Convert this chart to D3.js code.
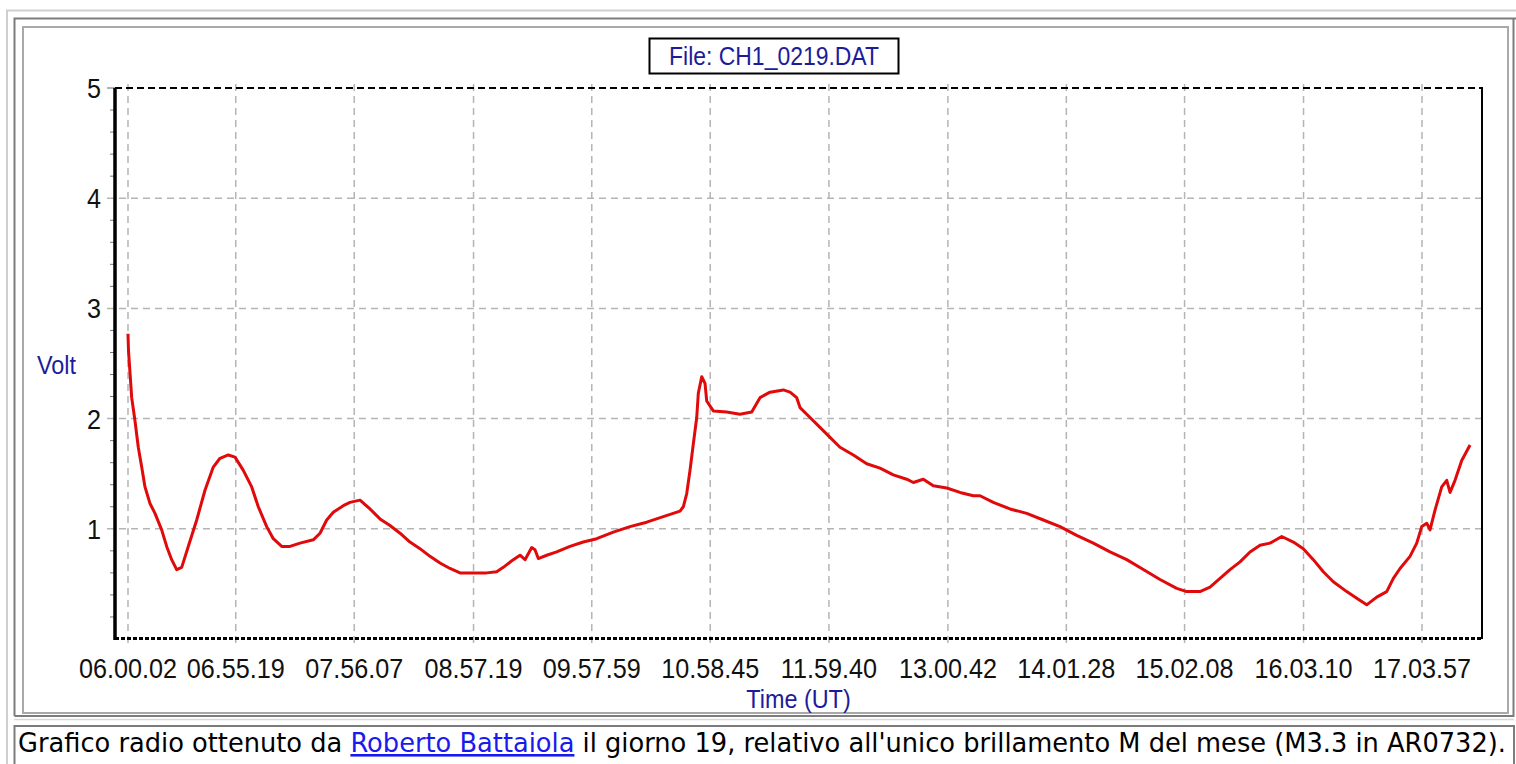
<!DOCTYPE html>
<html>
<head>
<meta charset="utf-8">
<script src="https://cdn.jsdelivr.net/npm/d3@7"></script>
<style>
  html, body { margin: 0; padding: 0; background: #ffffff; }
  svg { display: block; }
</style>
</head>
<body>
<svg id="chart" width="1516" height="764"></svg>
<script>
// ---------------- DATA ----------------
const chartTitle = "File: CH1_0219.DAT";
const yAxisTitle = "Volt";
const xAxisTitle = "Time (UT)";
const captionBefore = "Grafico radio ottenuto da ";
const captionLink = "Roberto Battaiola";
const captionAfter = " il giorno 19, relativo all'unico brillamento M del mese (M3.3 in AR0732).";

const xTickLabels = ["06.00.02","06.55.19","07.56.07","08.57.19","09.57.59","10.58.45",
                     "11.59.40","13.00.42","14.01.28","15.02.08","16.03.10","17.03.57"];
const xDomainLabels = ["05.53.22", "17.34.44"];
const yTickValues = [1, 2, 3, 4, 5];
const yDomain = [0, 5];

const times = [
 "06:00:02","06:00:17","06:01:56","06:03:37","06:05:19","06:07:04","06:08:45","06:11:19","06:13:53","06:17:19",
 "06:19:53","06:22:27","06:25:01","06:27:35","06:30:58","06:35:17","06:39:32","06:43:48","06:47:14","06:51:30",
 "06:54:56","06:59:12","07:03:30","07:06:53","07:11:12","07:14:35","07:18:54","07:23:09","07:28:17","07:35:06",
 "07:38:33","07:41:59","07:45:22","07:50:30","07:53:56","07:59:04","08:04:12","08:09:20","08:14:28","08:19:36",
 "08:24:43","08:29:51","08:34:59","08:40:07","08:45:15","08:50:23","08:57:12","09:04:05","09:09:12","09:12:36",
 "09:17:44","09:21:10","09:23:44","09:27:10","09:28:51","09:30:33","09:34:52","09:39:59","09:46:49","09:53:39",
 "10:00:31","10:09:02","10:17:36","10:26:10","10:34:41","10:43:15","10:44:57","10:46:42","10:48:23","10:50:05",
 "10:51:50","10:52:39","10:54:24","10:56:05","10:56:57","11:00:20","11:07:13","11:14:02","11:20:03","11:24:18",
 "11:29:26","11:36:15","11:39:42","11:43:08","11:44:50","11:49:57","11:55:05","12:00:13","12:05:21","12:12:11",
 "12:19:03","12:25:52","12:32:42","12:39:34","12:42:58","12:48:05","12:53:13","13:00:06","13:06:55","13:13:45",
 "13:17:11","13:24:00","13:32:34","13:41:08","13:49:40","13:58:14","14:06:47","14:15:19","14:23:53","14:32:27",
 "14:40:58","14:49:32","14:58:06","15:03:14","15:10:04","15:15:11","15:20:19","15:25:27","15:30:35","15:35:43",
 "15:40:51","15:45:58","15:51:59","15:57:56","16:03:03","16:08:11","16:13:19","16:18:27","16:25:20","16:30:28",
 "16:35:35","16:40:43","16:45:51","16:49:15","16:52:41","16:57:48","17:01:15","17:03:49","17:06:23","17:08:04",
 "17:10:38","17:14:04","17:16:38","17:18:20","17:20:54","17:24:20","17:28:36"
];
const volts = [
 2.77,2.62,2.19,1.98,1.74,1.56,1.38,1.23,1.14,0.99,
 0.84,0.72,0.63,0.65,0.84,1.08,1.35,1.56,1.64,1.67,
 1.65,1.53,1.38,1.20,1.02,0.91,0.84,0.84,0.87,0.90,
 0.96,1.08,1.15,1.21,1.24,1.26,1.18,1.09,1.03,0.96,
 0.88,0.82,0.75,0.69,0.64,0.60,0.60,0.60,0.61,0.65,
 0.72,0.76,0.72,0.83,0.81,0.73,0.76,0.79,0.84,0.88,
 0.91,0.97,1.02,1.06,1.11,1.16,1.20,1.32,1.53,1.77,
 2.01,2.23,2.38,2.32,2.16,2.07,2.06,2.04,2.06,2.19,
 2.24,2.26,2.24,2.19,2.10,2.01,1.92,1.83,1.74,1.67,
 1.59,1.55,1.49,1.45,1.42,1.45,1.39,1.37,1.33,1.30,
 1.30,1.24,1.18,1.14,1.08,1.02,0.94,0.87,0.79,0.72,
 0.63,0.54,0.46,0.43,0.43,0.47,0.55,0.63,0.70,0.79,
 0.85,0.87,0.93,0.88,0.82,0.72,0.61,0.52,0.43,0.37,
 0.31,0.38,0.43,0.55,0.64,0.75,0.87,1.02,1.05,0.99,
 1.17,1.38,1.44,1.33,1.44,1.62,1.76
];

// ---------------- LAYOUT ----------------
const W = 1516, H = 764;
const plot = { left: 115, right: 1482, top: 88, bottom: 639 };
const labelFont = "'Liberation Sans', Arial, sans-serif";
const blue = "#1c1c9a";

const svg = d3.select("#chart");
const parseTick = d3.timeParse("%H.%M.%S");
const parseTime = d3.timeParse("%H:%M:%S");

const x = d3.scaleTime()
  .domain(xDomainLabels.map(parseTick))
  .range([plot.left, plot.right]);
const y = d3.scaleLinear().domain(yDomain).range([plot.bottom, plot.top]);

// ---------------- FRAMES ----------------
svg.append("rect").attr("width", W).attr("height", H).attr("fill", "#fff");
svg.append("path").attr("d", `M7,764 V10.5 H1516`).attr("fill", "none")
  .attr("stroke", "#cfcfcf").attr("stroke-width", 2);
svg.append("path").attr("d", `M14.5,716 V18.5 H1516 M1513.5,19 V716 H14.5`).attr("fill", "none")
  .attr("stroke", "#7c7c7c").attr("stroke-width", 2);
svg.append("path").attr("d", `M14,719.5 H1514`).attr("stroke", "#d8d8d8").attr("stroke-width", 1.5);
svg.append("path").attr("d", `M14.5,764 V726 H1514 V764`).attr("fill", "none")
  .attr("stroke", "#7c7c7c").attr("stroke-width", 2);
svg.append("path").attr("d", `M23,713 V27 H1508 V713 Z`).attr("fill", "none")
  .attr("stroke", "#a9a9a9").attr("stroke-width", 2);

// ---------------- GRID ----------------
const tickDates = xTickLabels.map(parseTick);
const grid = svg.append("g");
grid.selectAll(".vg").data(tickDates).join("line")
  .attr("x1", d => x(d)).attr("x2", d => x(d))
  .attr("y1", plot.top - 4).attr("y2", plot.bottom + 5)
  .attr("stroke", "#b5b5b5").attr("stroke-width", 1.5).attr("stroke-dasharray", "7,5");
grid.selectAll(".hg").data(yTickValues.filter(v => v < 5)).join("line")
  .attr("x1", plot.left - 8).attr("x2", plot.right)
  .attr("y1", d => y(d)).attr("y2", d => y(d))
  .attr("stroke", "#b5b5b5").attr("stroke-width", 1.5).attr("stroke-dasharray", "7,5");

const minor = d3.range(0.2, 5, 0.2).filter(v => Math.abs(v - Math.round(v)) > 0.01);
svg.append("g").selectAll("line").data(minor).join("line")
  .attr("x1", plot.left - 5).attr("x2", plot.left)
  .attr("y1", d => y(d)).attr("y2", d => y(d))
  .attr("stroke", "#777").attr("stroke-width", 1);
svg.append("line").attr("x1", plot.left - 8).attr("x2", plot.left)
  .attr("y1", y(5)).attr("y2", y(5)).attr("stroke", "#999").attr("stroke-width", 1.5);

// ---------------- BORDERS / AXES ----------------
svg.append("line").attr("x1", plot.left).attr("x2", plot.right)
  .attr("y1", plot.top).attr("y2", plot.top)
  .attr("stroke", "#000").attr("stroke-width", 2).attr("stroke-dasharray", "7,4");
svg.append("line").attr("x1", plot.right).attr("x2", plot.right)
  .attr("y1", plot.top - 1).attr("y2", plot.bottom)
  .attr("stroke", "#000").attr("stroke-width", 2);
svg.append("line").attr("x1", plot.left).attr("x2", plot.right + 1)
  .attr("y1", plot.bottom - 0.5).attr("y2", plot.bottom - 0.5)
  .attr("stroke", "#000").attr("stroke-width", 3).attr("stroke-dasharray", "4,2");
svg.append("line").attr("x1", plot.left).attr("x2", plot.left)
  .attr("y1", plot.top).attr("y2", plot.bottom + 1)
  .attr("stroke", "#000").attr("stroke-width", 3.5);

// ---------------- LABELS ----------------
svg.append("g").selectAll("text").data(tickDates).join("text")
  .attr("transform", d => `translate(${x(d)},678) scale(0.9,1)`)
  .attr("text-anchor", "middle")
  .attr("font-family", labelFont).attr("font-size", 28).attr("fill", "#111")
  .text((d, i) => xTickLabels[i]);

svg.append("g").selectAll("text").data(yTickValues).join("text")
  .attr("transform", d => `translate(${plot.left - 14},${y(d) + 10}) scale(0.9,1)`)
  .attr("text-anchor", "end")
  .attr("font-family", labelFont).attr("font-size", 28).attr("fill", "#111")
  .text(d => d);

svg.append("text")
  .attr("transform", `translate(37,374) scale(0.9,1)`)
  .attr("font-family", labelFont).attr("font-size", 26).attr("fill", blue)
  .text(yAxisTitle);

svg.append("text")
  .attr("transform", `translate(${(plot.left + plot.right) / 2},708) scale(0.9,1)`)
  .attr("text-anchor", "middle")
  .attr("font-family", labelFont).attr("font-size", 26).attr("fill", blue)
  .text(xAxisTitle);

svg.append("rect").attr("x", 649.5).attr("y", 38.5).attr("width", 249).attr("height", 35)
  .attr("fill", "#fff").attr("stroke", "#000").attr("stroke-width", 2);
svg.append("text")
  .attr("transform", `translate(774,65) scale(0.9,1)`)
  .attr("text-anchor", "middle")
  .attr("font-family", labelFont).attr("font-size", 25.5).attr("fill", blue)
  .text(chartTitle);

// ---------------- DATA LINE ----------------
const series = times.map((t, i) => ({ t: parseTime(t), v: volts[i] }));
const line = d3.line().x(d => x(d.t)).y(d => y(d.v)).curve(d3.curveLinear);
svg.append("path").datum(series)
  .attr("d", line)
  .attr("fill", "none").attr("stroke", "#e00a0a").attr("stroke-width", 3)
  .attr("stroke-linejoin", "round");

// ---------------- CAPTION ----------------
const cap = svg.append("text").attr("x", 18).attr("y", 752)
  .attr("font-family", "'DejaVu Sans', Verdana, sans-serif").attr("font-size", 25.7).attr("fill", "#000");
cap.append("tspan").text(captionBefore);
cap.append("tspan").attr("fill", "#1a1aee").attr("text-decoration", "underline").text(captionLink);
cap.append("tspan").text(captionAfter);
</script>
</body>
</html>
